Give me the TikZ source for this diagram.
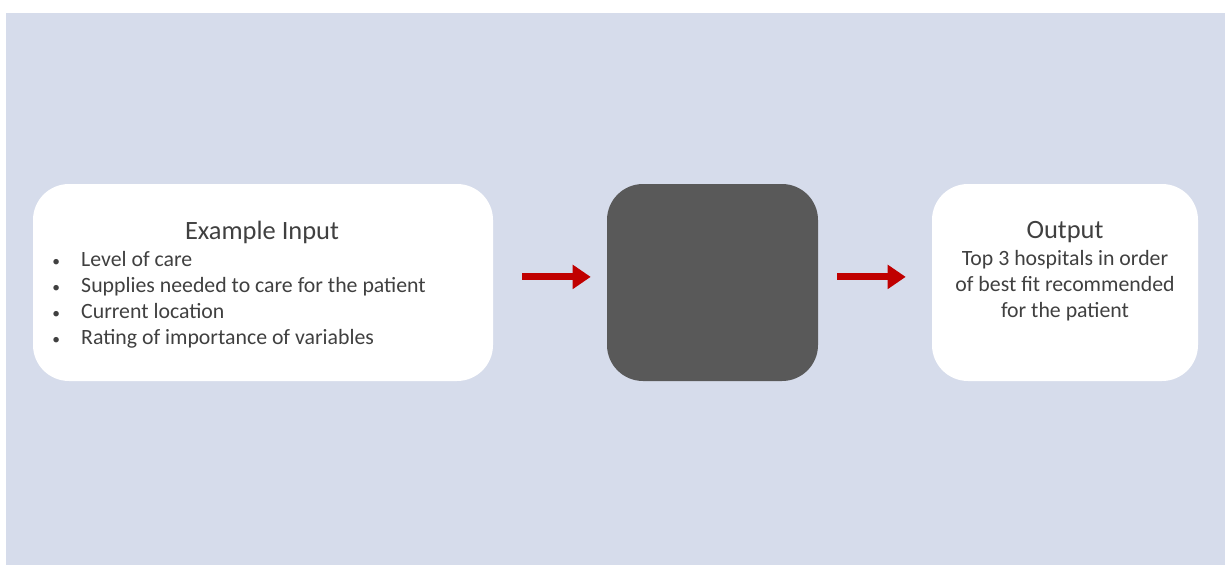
\documentclass[tikz,border=0pt]{standalone}
\usepackage{fontspec}
\setmainfont{Carlito}
\usepackage{tikz}
\usetikzlibrary{arrows.meta,positioning,backgrounds}
\definecolor{hgblau}{HTML}{D6DCEB}
\definecolor{kastengrau}{HTML}{595959}
\definecolor{pfeilrot}{HTML}{C00000}
\definecolor{textgrau}{HTML}{404040}
\newcommand{\punkt}{{\fontsize{11}{11}\selectfont\textbullet}}

\begin{document}
\begin{tikzpicture}[x=0.025cm,y=-0.025cm,
  kasten/.style={rounded corners=0.9cm,minimum width=#1*0.025cm,minimum height=197*0.025cm,inner sep=0pt},
  titel/.style={font=\fontsize{18.8}{22}\selectfont,text=textgrau,inner sep=0pt},
  inhalt/.style={font=\fontsize{15.5}{18.5}\selectfont,text=textgrau,inner sep=0pt},
  pfeil/.style={pfeilrot,line width=5pt,-{Triangle[length=0.45cm,width=0.58cm]}}]
%Bildgroesse in Pixeln: 1225 x 565
\useasboundingbox (0,0) rectangle (1225,565);
\fill[hgblau] (6,13) rectangle (1225,565);
%Die drei Kaesten
\node[kasten=460,fill=white] (eingabe) at (263,282.5) {};
\node[kasten=211,fill=kastengrau] (modell) at (712.5,282.5) {};
\node[kasten=266,fill=white] (ausgabe) at (1065,282.5) {};
%Texte
\node[titel,anchor=base] (eingabeTitel) at (262,239) {Example Input};
\node[inhalt,anchor=base west] (eingabeListe) at (52,266) {%
  \begin{tabular}[t]{@{}p{20.6pt}@{}l@{}}
  \punkt & Level of care\\
  \punkt & Supplies needed to care for the patient\\
  \punkt & Current location\\
  \punkt & Rating of importance of variables
  \end{tabular}};
\node[titel,anchor=base] (ausgabeTitel) at (1065,238) {Output};
\node[inhalt,anchor=base] (ausgabeText) at (1065,265) {%
  \begin{tabular}[t]{@{}c@{}}
  Top 3 hospitals in order\\
  of best fit recommended\\
  for the patient
  \end{tabular}};
%Pfeile (etwas oberhalb der Mitte)
\draw[pfeil,shorten <=29*0.025cm,shorten >=16*0.025cm] ([yshift=0.14cm]eingabe.east) -- ([yshift=0.14cm]modell.west);
\draw[pfeil,shorten <=19*0.025cm,shorten >=26*0.025cm] ([yshift=0.14cm]modell.east) -- ([yshift=0.14cm]ausgabe.west);
\end{tikzpicture}
\end{document}
